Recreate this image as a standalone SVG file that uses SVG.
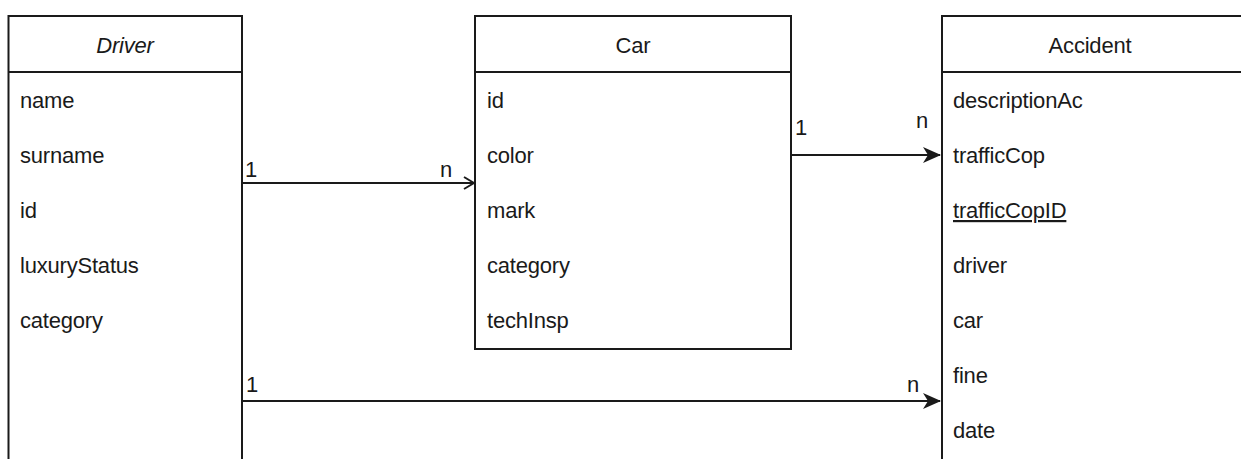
<svg xmlns="http://www.w3.org/2000/svg" width="1241" height="459" viewBox="0 0 1241 459">
<style>
.box{fill:#fff;stroke:#1a1a1a;stroke-width:2}
.div{stroke:#1a1a1a;stroke-width:2}
.t{font-family:"Liberation Sans",Arial,sans-serif;font-size:22px;fill:#1a1a1a;letter-spacing:-0.2px}
.h{text-anchor:middle}
.lbl{font-family:"Liberation Sans",Arial,sans-serif;font-size:22px;fill:#1a1a1a}
.edge{stroke:#1a1a1a;stroke-width:2;fill:none}
</style>
<defs>
<marker id="open" viewBox="0 0 12 14" refX="11" refY="7" markerWidth="12" markerHeight="14" markerUnits="userSpaceOnUse" orient="auto">
<path d="M1,1 L11,7 L1,13" fill="none" stroke="#1a1a1a" stroke-width="2"/>
</marker>
<marker id="filled" viewBox="0 0 18 18" refX="17" refY="9" markerWidth="18" markerHeight="18" markerUnits="userSpaceOnUse" orient="auto">
<path d="M0,1 L18,9 L0,17 L5,9 Z" fill="#1a1a1a"/>
</marker>
</defs>
<rect width="1241" height="459" fill="#fff"/>
<g id="driver">
<rect class="box" x="8.5" y="16" width="233.5" height="460"/>
<line class="div" x1="8.5" y1="72" x2="242" y2="72"/>
<text class="t h" x="125" y="53" font-style="italic">Driver</text>
<text class="t" x="20" y="108">name</text>
<text class="t" x="20" y="163">surname</text>
<text class="t" x="20" y="218">id</text>
<text class="t" x="20" y="273">luxuryStatus</text>
<text class="t" x="20" y="328">category</text>
</g>
<g id="car">
<rect class="box" x="475" y="16" width="316" height="333"/>
<line class="div" x1="475" y1="72" x2="791" y2="72"/>
<text class="t h" x="633" y="53">Car</text>
<text class="t" x="487" y="108">id</text>
<text class="t" x="487" y="163">color</text>
<text class="t" x="487" y="218">mark</text>
<text class="t" x="487" y="273">category</text>
<text class="t" x="487" y="328">techInsp</text>
</g>
<g id="accident">
<rect class="box" x="942" y="16" width="320" height="460"/>
<line class="div" x1="942" y1="72" x2="1262" y2="72"/>
<text class="t h" x="1090" y="53">Accident</text>
<text class="t" x="953" y="108">descriptionAc</text>
<text class="t" x="953" y="163">trafficCop</text>
<text class="t" x="953" y="218" text-decoration="underline">trafficCopID</text>
<text class="t" x="953" y="273">driver</text>
<text class="t" x="953" y="328">car</text>
<text class="t" x="953" y="383">fine</text>
<text class="t" x="953" y="438">date</text>
</g>
<g id="connectors">
<line class="edge" x1="242" y1="183" x2="474" y2="183" marker-end="url(#open)"/>
<text class="lbl" x="245" y="177">1</text>
<text class="lbl" x="440" y="177">n</text>
<line class="edge" x1="791" y1="155" x2="940" y2="155" marker-end="url(#filled)"/>
<text class="lbl" x="795" y="135">1</text>
<text class="lbl" x="916" y="128">n</text>
<line class="edge" x1="242" y1="401" x2="940" y2="401" marker-end="url(#filled)"/>
<text class="lbl" x="246" y="392">1</text>
<text class="lbl" x="907" y="392">n</text>
</g>
</svg>
